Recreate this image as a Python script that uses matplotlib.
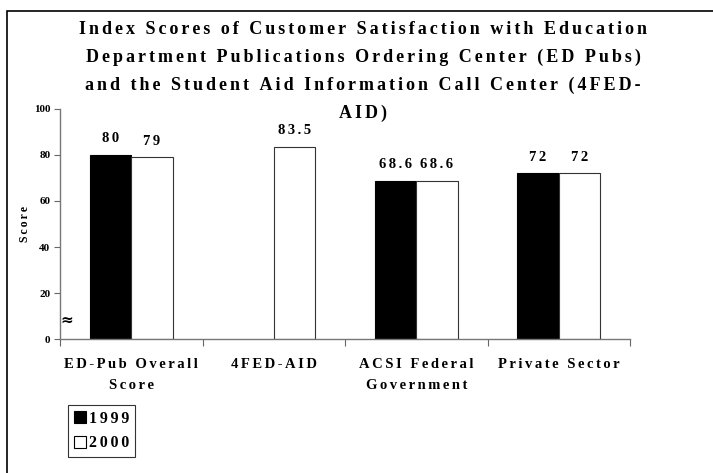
import numpy as np
import matplotlib
matplotlib.use('Agg')
import matplotlib.pyplot as plt
import matplotlib.patches as patches

categories = ['ED-Pub Overall\nScore', '4FED-AID', 'ACSI Federal\nGovernment', 'Private Sector']
scores_1999 = [80, np.nan, 68.6, 72]
scores_2000 = [79, 83.5, 68.6, 72]
title_lines = ['Index Scores of Customer Satisfaction with Education',
               'Department Publications Ordering Center (ED Pubs)',
               'and the Student Aid Information Call Center (4FED-',
               'AID)']

HS = '\u200a'  # hair space, used to mimic the letter spacing of the original


def spaced(s, n=1):
    return '\n'.join((HS * n).join(line) for line in s.split('\n'))


plt.rcParams['font.family'] = ['Liberation Serif', 'DejaVu Serif']
plt.rcParams['font.weight'] = 'bold'

fig = plt.figure(figsize=(7.13, 4.73), dpi=100)
ax = fig.add_axes([60 / 713, 134 / 473, 570 / 713, 230 / 473])

x = np.arange(len(categories))
bar_width = 0.29
b1 = ax.bar(x - bar_width / 2, scores_1999, width=bar_width, color='black',
            edgecolor='black', linewidth=0.8, label='1999')
b2 = ax.bar(x + bar_width / 2, scores_2000, width=bar_width, color='white',
            edgecolor='#333333', linewidth=0.8, label='2000')

for bars, vals in ((b1, scores_1999), (b2, scores_2000)):
    for rect, v in zip(bars, vals):
        if np.isnan(v):
            continue
        ax.annotate(spaced(f'{v:g}', 2), (rect.get_x() + rect.get_width() / 2, v),
                    xytext=(0, 7), textcoords='offset points', ha='center',
                    va='bottom', fontsize=10.5, fontweight='bold')

ax.set_xlim(-0.5, len(categories) - 0.5)
ax.set_ylim(0, 100)
ax.set_yticks([0, 20, 40, 60, 80, 100])
ax.tick_params(axis='y', labelsize=8, length=4, color='#666666', pad=3)
ax.set_xticks(np.arange(len(categories) + 1) - 0.5)
ax.set_xticklabels([])
ax.set_xticks(x, [spaced(c, 2) for c in categories], minor=True)
ax.tick_params(axis='x', which='major', length=5, color='#666666')
ax.tick_params(axis='x', which='minor', length=0, labelsize=10.5, pad=14)
for lbl in ax.get_xticklabels(minor=True):
    lbl.set_linespacing(1.8)

for side in ('top', 'right'):
    ax.spines[side].set_visible(False)
for side in ('left', 'bottom'):
    ax.spines[side].set_color('#777777')
    ax.spines[side].set_linewidth(1.0)

ax.set_ylabel(spaced('Score', 2), fontsize=8.5, fontweight='bold', labelpad=2)

# axis break mark
ax.text(0.0, 0.08, '\u2248', transform=ax.transAxes,
        fontsize=11, ha='left', va='center', family='DejaVu Sans')

for i, line in enumerate(title_lines):
    fig.text(363 / 713, 1 - (29 + 28 * i) / 473, spaced(line, 2), ha='center',
             va='center', fontsize=13, fontweight='bold')

leg = ax.legend(loc='upper left', bbox_to_anchor=(68 / 713, 1 - 405 / 473),
                bbox_transform=fig.transFigure, frameon=True, fancybox=False,
                fontsize=11.5, handlelength=0.8, handleheight=0.8,
                handletextpad=0.15, borderpad=0.35, labelspacing=0.55,
                borderaxespad=0)
leg.get_frame().set_edgecolor('black')
leg.get_frame().set_linewidth(0.8)
for t in leg.get_texts():
    t.set_text(spaced(t.get_text(), 2))
for h in leg.legend_handles:
    h.set_edgecolor('black')

fig.patches.append(patches.Rectangle((7 / 713, -0.2), 1.5, 1.2 - 11 / 473,
                                     transform=fig.transFigure, fill=False,
                                     edgecolor='black', linewidth=1.2))

fig.savefig('out.png', dpi=100)
